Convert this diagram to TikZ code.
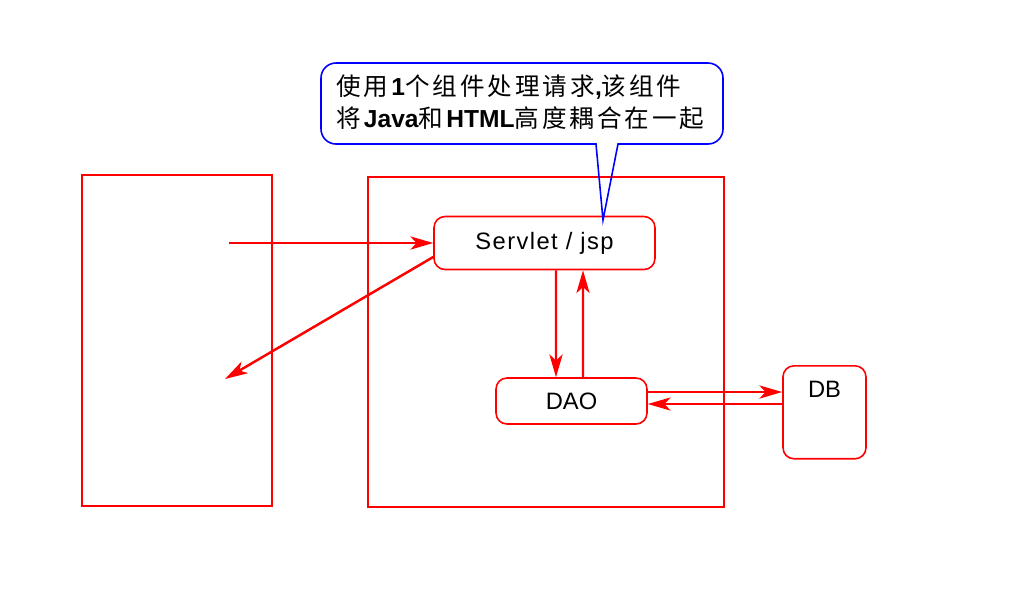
\documentclass[tikz,border=0pt]{standalone}
\usepackage{fontspec}
\setmainfont{Liberation Sans}
\newfontfamily\cjk[LetterSpace=12]{Noto Sans CJK SC}

\usetikzlibrary{arrows.meta}

\begin{document}
\begin{tikzpicture}[x=0.02cm, y=-0.02cm,
                    frame/.style={draw=red, line width=1.5pt},
                    part/.style={draw=red, line width=0.9pt, rounded corners=0.22cm, inner sep=0pt, font=\fontsize{13.5}{16}\selectfont},
                    flow/.style={draw=red, line width=1.4pt, -{Stealth[length=13pt, width=7.5pt, inset=3.5pt]}},
                    callout/.style={draw=blue, line width=0.9pt}]
                            \useasboundingbox (0,0) rectangle (1024,610);

                            \draw[frame] (82,175) rectangle (272,506);
                            \draw[frame] (368,177) rectangle (724,507);

                            \node[part, minimum width=4.42cm, minimum height=1.06cm] (servlet) at (544.5,243) {\addfontfeature{LetterSpace=6}Servlet / jsp};
                            \node[part, minimum width=3.02cm, minimum height=0.92cm] (dao) at (571.5,401) {DAO};
                            \node[part, anchor=north, minimum width=1.66cm, inner ysep=0.3cm, text height=0.34cm, text depth=0.92cm] (db) at (824.5,365) {DB};

                            \node[anchor=west, align=left, inner sep=0pt, font=\fontsize{14}{18.2}\selectfont] (note) at (336,102.5)
                                {{\cjk 使用}\textbf{1}{\cjk 个组件处理请求}\textbf{,}{\cjk 该组件}\\{\cjk 将}\textbf{Java}{\cjk 和}\textbf{HTML}{\cjk 高度耦合在一起}};
                            \coordinate (tip) at (603,220);
                            \draw[callout] (596,144) -- (tip) -- (618,144) [rounded corners=0.3cm] -- (723,144) -- (723,63) -- (321,63) -- (321,144) [sharp corners] -- (596,144) -- cycle;

                            \coordinate (req) at (229,243);
                            \coordinate (resp) at (225,379);
                            \coordinate (q) at ([yshift=0.18cm]dao.east);
                            \coordinate (r) at ([yshift=-0.06cm]dao.east);

                            \draw[flow] (req) -- (servlet.west);
                            \draw[flow] ([yshift=-0.28cm]servlet.west) -- (resp);
                            \draw[flow] ([xshift=0.23cm]servlet.south) -- ([xshift=-0.31cm]dao.north);
                            \draw[flow] ([xshift=0.23cm]dao.north) -- ([xshift=0.77cm]servlet.south);
                            \draw[flow] (q) -- (q -| db.west);
                            \draw[flow] (r -| db.west) -- (r);
                        \end{tikzpicture}
\end{document}
